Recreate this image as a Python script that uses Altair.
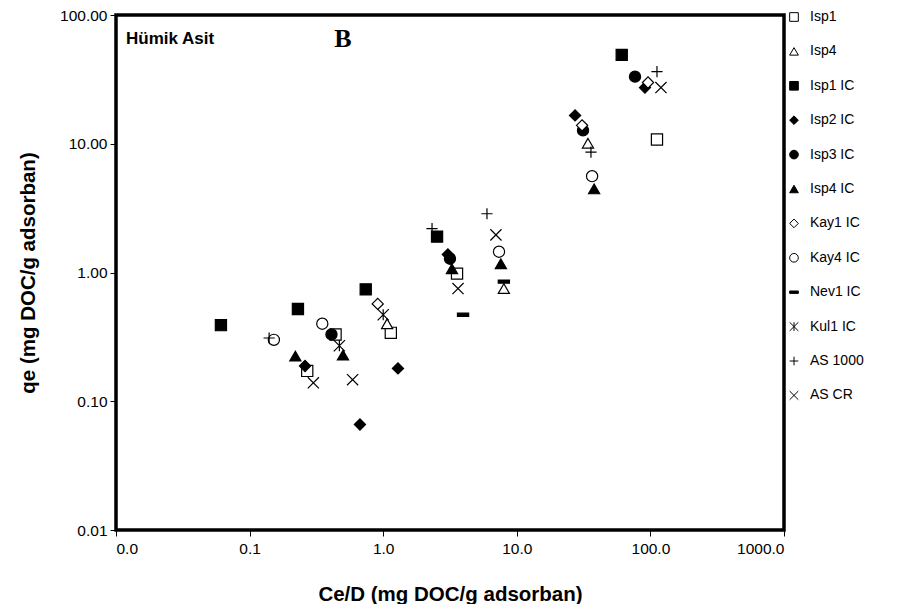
import altair as alt
import pandas as pd

series = ["Isp1", "Isp4", "Isp1 IC", "Isp2 IC", "Isp3 IC", "Isp4 IC",
          "Kay1 IC", "Kay4 IC", "Nev1 IC", "Kul1 IC", "AS 1000", "AS CR"]

isp1_x = [0.27, 0.44, 1.14, 3.57, 112]
isp1_y = [0.172, 0.33, 0.34, 0.98, 10.8]
isp4_x = [1.07, 8.0, 34.1]
isp4_y = [0.40, 0.75, 10.1]
isp1ic_x = [0.061, 0.23, 0.74, 2.53, 61]
isp1ic_y = [0.39, 0.52, 0.74, 1.90, 49]
isp2ic_x = [0.26, 0.67, 1.29, 3.05, 27.3, 91]
isp2ic_y = [0.188, 0.066, 0.18, 1.38, 16.6, 27.3]
isp3ic_x = [0.41, 3.16, 31.3, 76.7]
isp3ic_y = [0.33, 1.28, 12.7, 33.2]
isp4ic_x = [0.22, 0.50, 3.27, 7.6, 37.9]
isp4ic_y = [0.224, 0.228, 1.07, 1.17, 4.46]
kay1ic_x = [0.91, 30.8, 96]
kay1ic_y = [0.57, 13.9, 29.9]
kay4ic_x = [0.152, 0.35, 7.36, 36.6]
kay4ic_y = [0.30, 0.40, 1.45, 5.6]
nev1ic_x = [3.96, 8.0]
nev1ic_y = [0.47, 0.85]
kul1ic_x = [0.47, 1.0]
kul1ic_y = [0.27, 0.47]
as1000_x = [0.14, 2.32, 5.98, 35.9, 112]
as1000_y = [0.31, 2.19, 2.86, 8.6, 36.3]
ascr_x = [0.30, 0.59, 3.63, 6.98, 120]
ascr_y = [0.139, 0.147, 0.75, 1.96, 27.3]

xs = [isp1_x, isp4_x, isp1ic_x, isp2ic_x, isp3ic_x, isp4ic_x,
      kay1ic_x, kay4ic_x, nev1ic_x, kul1ic_x, as1000_x, ascr_x]
ys = [isp1_y, isp4_y, isp1ic_y, isp2ic_y, isp3ic_y, isp4ic_y,
      kay1ic_y, kay4ic_y, nev1ic_y, kul1ic_y, as1000_y, ascr_y]

x_ticks = [0.01, 0.1, 1, 10, 100, 1000]
y_ticks = [0.01, 0.1, 1, 10, 100]

rows = []
for i, (s, xv, yv) in enumerate(zip(series, xs, ys)):
    for a, b in zip(xv, yv):
        rows.append({"series": s, "ce": a, "qe": b, "order": i})
df = pd.DataFrame(rows)

shapes = ["square", "triangle-up", "square", "diamond", "circle", "triangle-up",
          "diamond", "circle", "M-1,-0.28H1V0.28H-1Z",
          "M-1,-1L1,1M-1,1L1,-1M0,-1V1", "M-1,0H1M0,-1V1", "M-1,-1L1,1M-1,1L1,-1"]
fills = ["white", "white", "black", "black", "black", "black",
         "white", "white", "black", "white", "white", "white"]
strokes = ["black"] * len(series)

FONT = "Liberation Sans"

leg = alt.Legend(title=None, orient="none", legendX=671, legendY=-5,
                 symbolSize=75, symbolStrokeWidth=1,
                 labelFontSize=14, labelFont=FONT, labelColor="black",
                 rowPadding=20.4, labelOffset=9, padding=0)

points = alt.Chart(df).mark_point(
    filled=True, strokeWidth=1.2, size=125, opacity=1
).encode(
    x=alt.X("ce:Q", scale=alt.Scale(type="log", domain=[0.01, 1000], nice=False),
            axis=alt.Axis(values=x_ticks, format=".1f",
                          title="Ce/D (mg DOC/g adsorban)", titlePadding=28)),
    y=alt.Y("qe:Q", scale=alt.Scale(type="log", domain=[0.01, 100], nice=False),
            axis=alt.Axis(values=y_ticks, format=".2f",
                          title="qe (mg DOC/g adsorban)", titlePadding=21)),
    shape=alt.Shape("series:N", scale=alt.Scale(domain=series, range=shapes), legend=leg),
    fill=alt.Fill("series:N", scale=alt.Scale(domain=series, range=fills), legend=leg),
    stroke=alt.Stroke("series:N", scale=alt.Scale(domain=series, range=strokes), legend=leg),
    order=alt.Order("order:Q"),
)

ann1 = alt.Chart(pd.DataFrame({"t": ["Hümik Asit"]})).mark_text(
    font=FONT, fontSize=17, fontWeight="bold", align="left", baseline="middle", color="black"
).encode(x=alt.value(10), y=alt.value(24), text="t:N")

ann2 = alt.Chart(pd.DataFrame({"t": ["B"]})).mark_text(
    font="Liberation Serif", fontSize=26, fontWeight="bold", align="center", baseline="middle", color="black"
).encode(x=alt.value(227), y=alt.value(24), text="t:N")

chart = alt.layer(points, ann1, ann2).properties(
    width=668, height=515,
    autosize=alt.AutoSizeParams(type="none"),
    padding={"left": 108, "top": 7, "right": 126, "bottom": 74},
).configure_view(
    stroke="black", strokeWidth=3.5
).configure_axis(
    domain=False, grid=False, ticks=True, tickColor="black", tickSize=6, tickWidth=1,
    labelFont=FONT, labelFontSize=15.5, labelColor="black", labelPadding=3,
    titleFont=FONT, titleFontSize=20.5, titleFontWeight="bold", titleColor="black",
).configure_axisX(labelPadding=5)

chart.save("out.html", embed_options={"renderer": "svg", "actions": False})
